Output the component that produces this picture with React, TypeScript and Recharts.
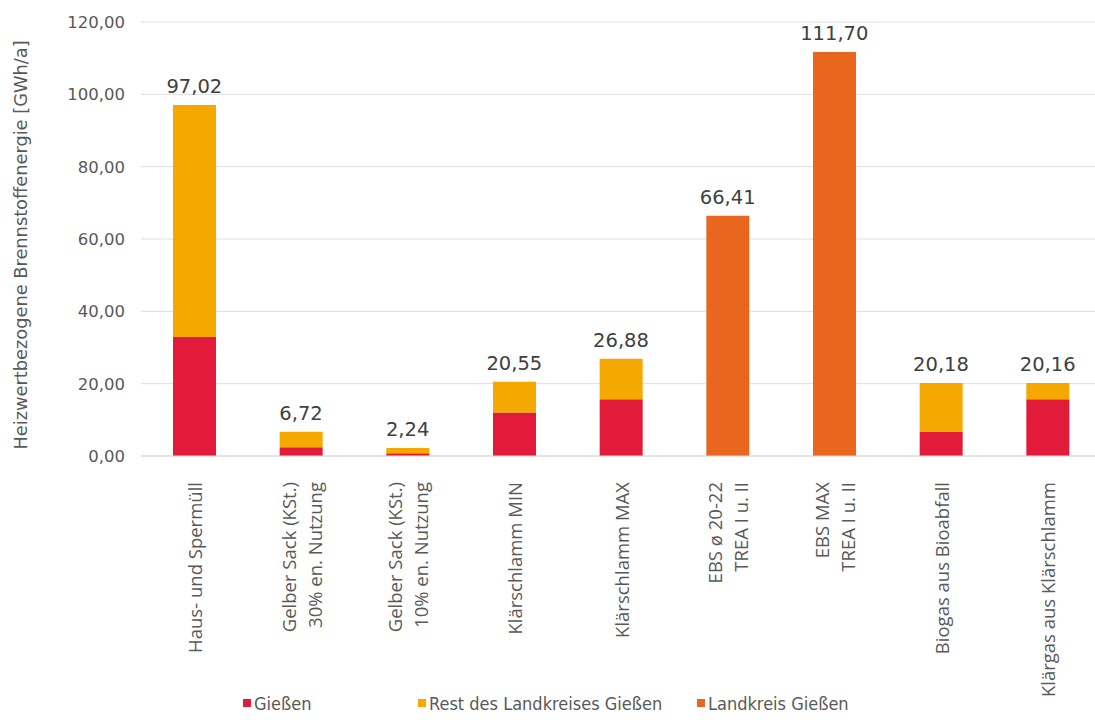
import React from 'react';
import {
  ComposedChart, Bar, Line, XAxis, YAxis, CartesianGrid, LabelList, Legend,
} from 'recharts';

// categories (line breaks = manual wraps in the axis labels)
const categories = [
  'Haus- und Spermüll',
  'Gelber Sack (KSt.)\n30% en. Nutzung',
  'Gelber Sack (KSt.)\n10% en. Nutzung',
  'Klärschlamm MIN',
  'Klärschlamm MAX',
  'EBS ø 20-22\nTREA I u. II',
  'EBS MAX\nTREA I u. II',
  'Biogas aus Bioabfall',
  'Klärgas aus Klärschlamm',
];

const giessen = [32.9, 2.4, 0.75, 12.0, 15.7, 0, 0, 6.8, 15.7];
const restLandkreis = [64.12, 4.32, 1.49, 8.55, 11.18, 0, 0, 13.38, 4.46];
const landkreis = [0, 0, 0, 0, 0, 66.41, 111.7, 0, 0];
const totals = [97.02, 6.72, 2.24, 20.55, 26.88, 66.41, 111.7, 20.18, 20.16];

const yTicks = [0, 20, 40, 60, 80, 100, 120];

const SERIES = [
  { key: 'giessen', name: 'Gießen', color: '#E31B3B' },
  { key: 'rest', name: 'Rest des Landkreises Gießen', color: '#F5A800' },
  { key: 'landkreis', name: 'Landkreis Gießen', color: '#E8661E' },
];

const data = categories.map((c, i) => ({
  name: c,
  giessen: giessen[i],
  rest: restLandkreis[i],
  landkreis: landkreis[i],
  total: totals[i],
}));

const FONT = '"DejaVu Sans", Verdana, sans-serif';
const fmt = (v: number) => v.toFixed(2).replace('.', ',');

function XTick({ x, y, payload }: any) {
  const lines = String(payload.value).split('\n');
  const n = lines.length;
  return (
    <g transform={`translate(${x},${y})`}>
      {lines.map((l, i) => (
        <text
          key={i}
          transform="rotate(-90)"
          x={-18}
          y={(i - (n - 1) / 2) * 26}
          textAnchor="end"
          dominantBaseline="central"
          fontFamily='"Open Sans", sans-serif'
          fontSize={18.5}
          fill="#595959"
        >
          {l}
        </text>
      ))}
    </g>
  );
}

function LegendContent() {
  const widths = [175, 279, 200];
  return (
    <div style={{ display: 'flex', paddingLeft: 243, height: 34, alignItems: 'center' }}>
      {SERIES.map((s, i) => (
        <div key={s.key} style={{ width: widths[i], display: 'flex', alignItems: 'center' }}>
          <span style={{ width: 8, height: 8, background: s.color, marginRight: 3, display: 'inline-block' }} />
          <span style={{
            fontFamily: '"Liberation Sans Narrow", "DejaVu Sans Condensed", sans-serif',
            fontSize: 18,
            color: '#595959',
            whiteSpace: 'nowrap',
          }}>
            {s.name}
          </span>
        </div>
      ))}
    </div>
  );
}

export default function App() {
  return (
    <div style={{ position: 'absolute', left: 0, top: 0, width: 1095, height: 720, overflow: 'hidden', background: '#fff' }}>
      <ComposedChart
        width={1101}
        height={720}
        data={data}
        margin={{ top: 22, right: 0, bottom: 0, left: 0 }}
        barSize={43}
      >
        <CartesianGrid vertical={false} stroke="#dedede" />
        <XAxis
          dataKey="name"
          interval={0}
          height={230}
          tick={<XTick />}
          tickLine={false}
          axisLine={{ stroke: '#d9d9d9' }}
        />
        <YAxis
          width={141}
          domain={[0, 120]}
          ticks={yTicks}
          tickFormatter={fmt}
          tickLine={false}
          axisLine={false}
          tickSize={0}
          tickMargin={16}
          tick={{ fontFamily: FONT, fontSize: 16.5, fill: '#595959' }}
          label={{
            content: ({ viewBox }: any) => (
              <text
                transform={`translate(20,${viewBox.y + viewBox.height / 2 + 6}) rotate(-90)`}
                textAnchor="middle"
                dominantBaseline="central"
                fontFamily={FONT}
                fontSize={17.8}
                fill="#595959"
              >
                Heizwertbezogene Brennstoffenergie [GWh/a]
              </text>
            ),
          }}
        />
        <Legend verticalAlign="bottom" height={34} content={<LegendContent />} />
        {SERIES.map((s) => (
          <Bar key={s.key} dataKey={s.key} name={s.name} stackId="a" fill={s.color} isAnimationActive={false} />
        ))}
        {/* invisible line only carries the total labels above each stack */}
        <Line
          dataKey="total"
          stroke="none"
          dot={false}
          activeDot={false}
          legendType="none"
          isAnimationActive={false}
        >
          <LabelList
            dataKey="total"
            content={(p: any) => (
              <text
                x={p.x}
                y={p.y - 12}
                textAnchor="middle"
                fontFamily={FONT}
                fontSize={19.5}
                fill="#404040"
              >
                {fmt(Number(p.value))}
              </text>
            )}
          />
        </Line>
      </ComposedChart>
    </div>
  );
}
